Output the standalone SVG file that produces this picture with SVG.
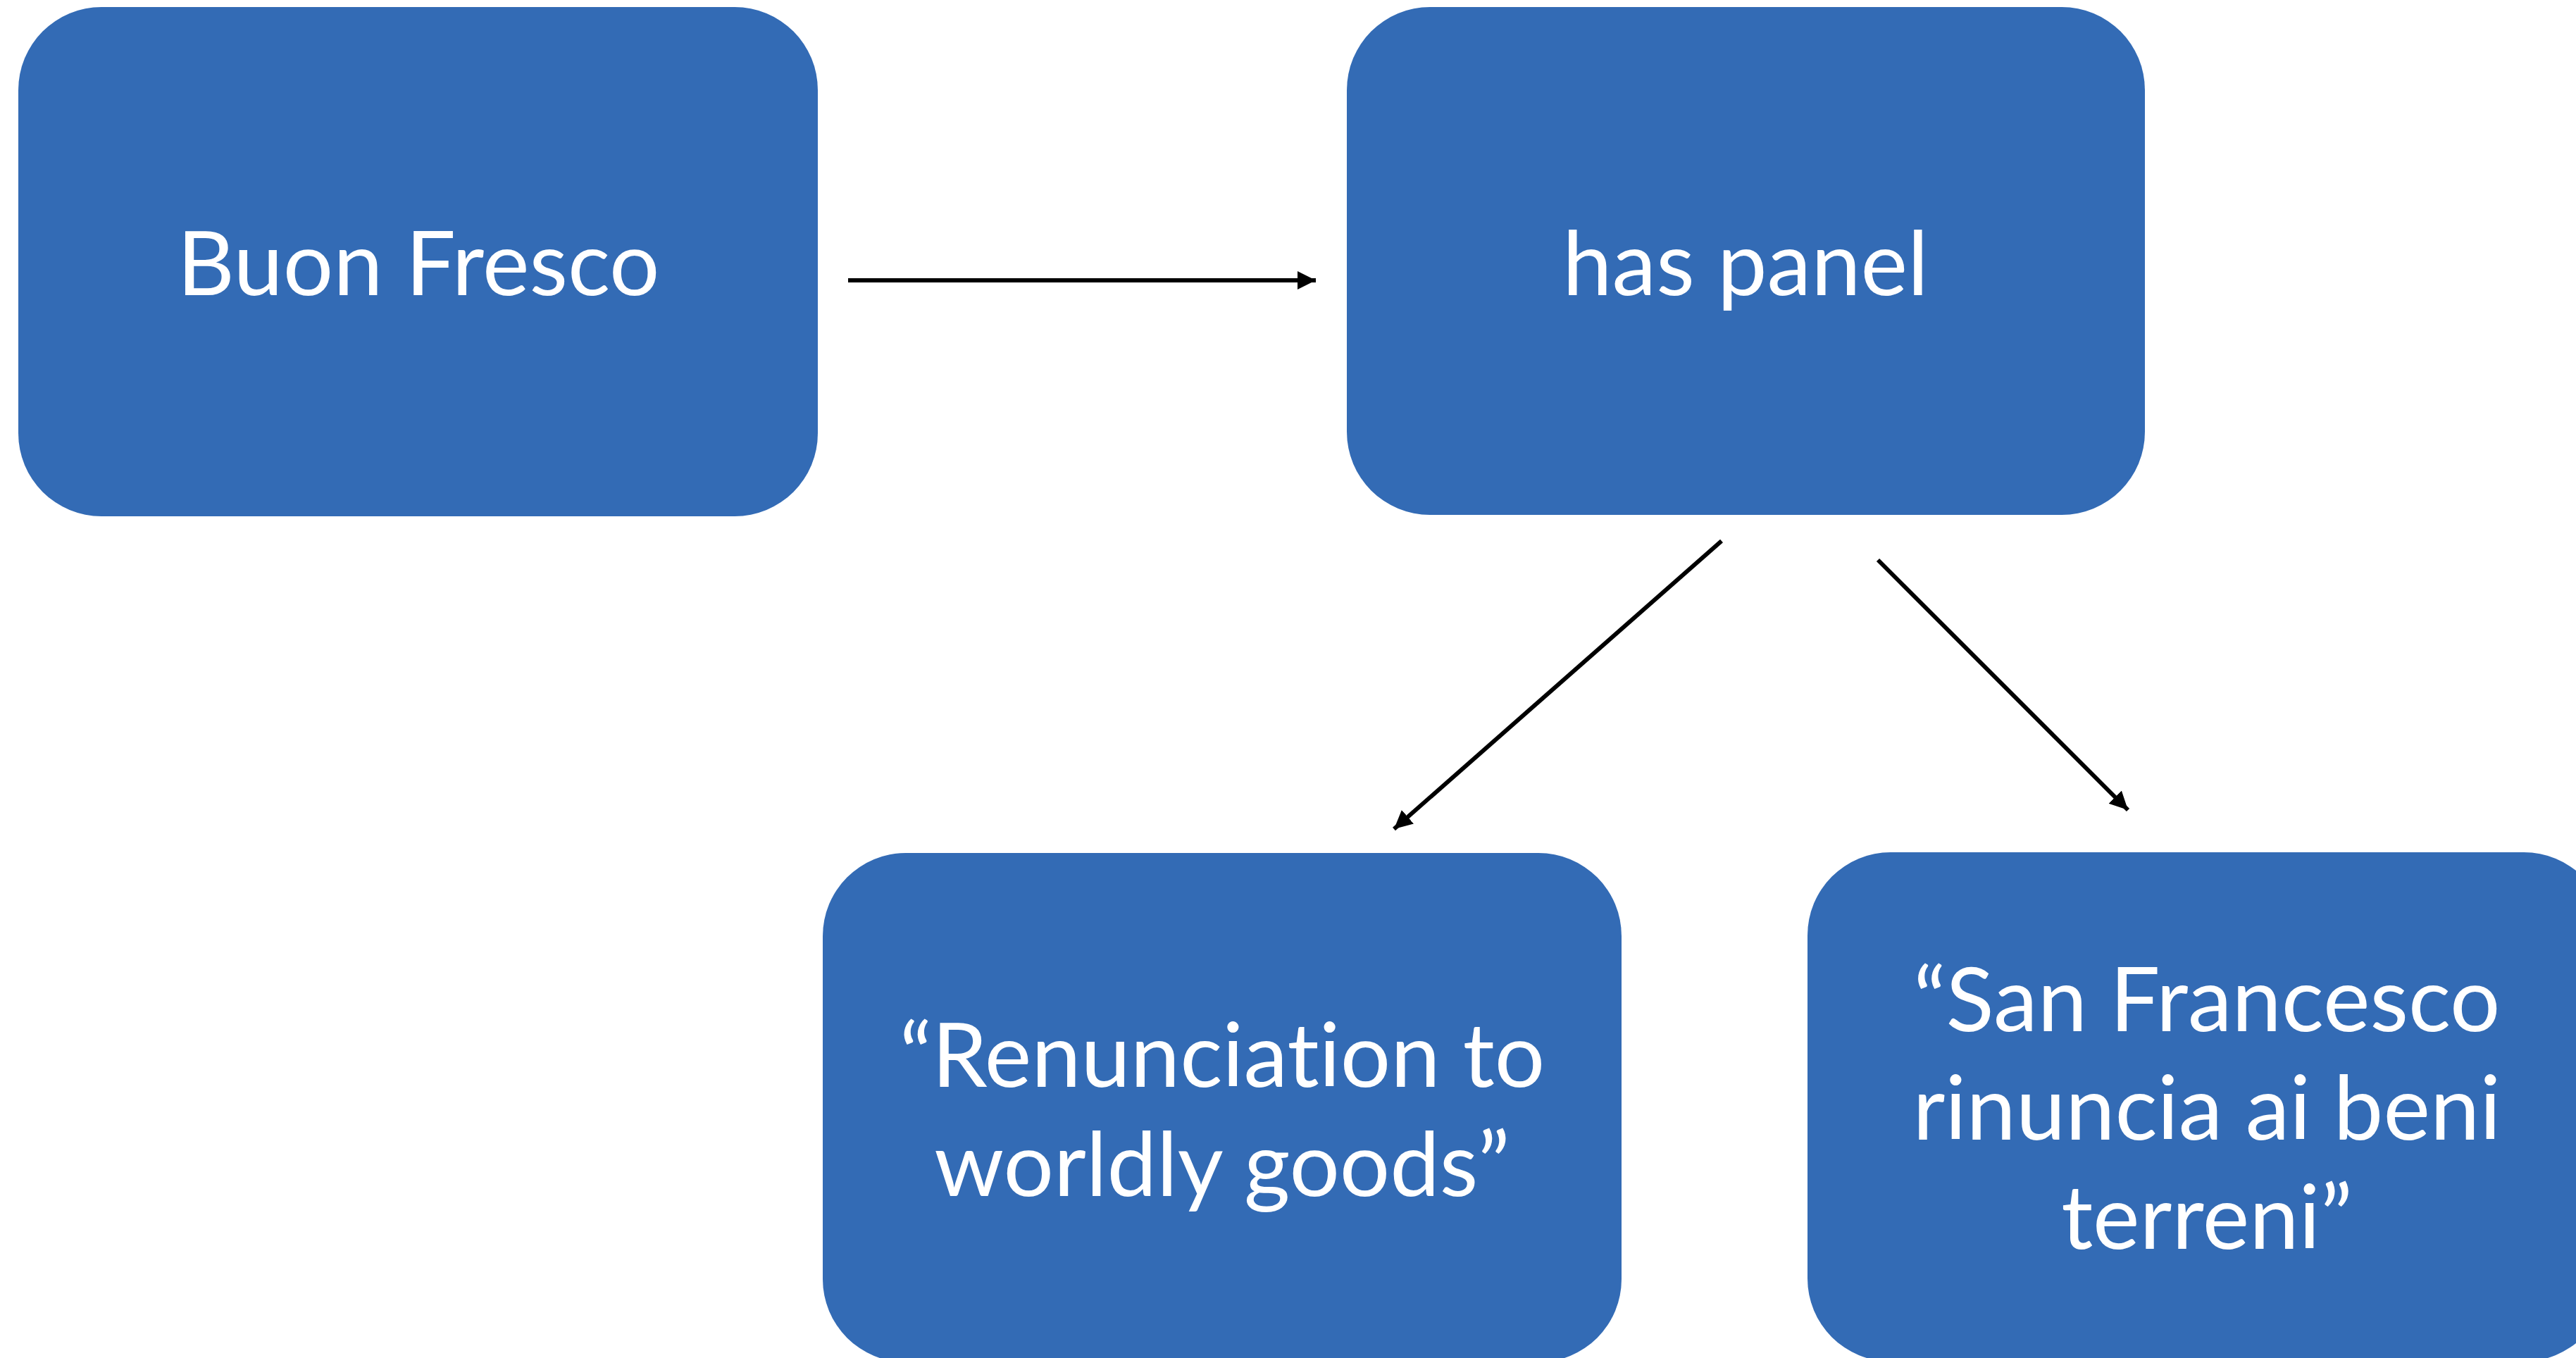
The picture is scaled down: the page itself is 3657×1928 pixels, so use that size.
<svg xmlns="http://www.w3.org/2000/svg" width="3657" height="1928" viewBox="0 0 3657 1928">
  <style>
    .node { fill: #336BB5; }
    .label { fill: #FFFFFF; font-family: Lato, "Liberation Sans", sans-serif; font-size: 126px; text-anchor: middle; font-variant-ligatures: none; font-feature-settings: "liga" 0, "dlig" 0; }
    .edge { stroke: #000000; stroke-width: 6; fill: none; marker-end: url(#arrow); }
  </style>
  <defs>
    <marker id="arrow" markerUnits="userSpaceOnUse" markerWidth="30" markerHeight="30" refX="26" refY="13" orient="auto">
      <path d="M0,0 L26,13 L0,26 Z" fill="#000000"/>
    </marker>
  </defs>
  <rect width="3657" height="1928" fill="#FFFFFF"/>
  <g id="node-buon-fresco">
    <rect class="node" x="26" y="10" width="1135" height="723" rx="118" ry="118"/>
    <text class="label" x="594" y="419">Buon Fresco</text>
  </g>
  <g id="node-has-panel">
    <rect class="node" x="1912" y="10" width="1133" height="721" rx="118" ry="118"/>
    <text class="label" x="2478" y="419">has panel</text>
  </g>
  <g id="node-renunciation">
    <rect class="node" x="1168" y="1211" width="1134" height="723" rx="118" ry="118"/>
    <text class="label" x="1735" y="1543">“Renunciation to</text>
    <text class="label" x="1735" y="1698">worldly goods”</text>
  </g>
  <g id="node-san-francesco">
    <rect class="node" x="2566" y="1210" width="1135" height="723" rx="118" ry="118"/>
    <text class="label" x="3133" y="1464">“San Francesco</text>
    <text class="label" x="3133" y="1618">rinuncia ai beni</text>
    <text class="label" x="3133" y="1773">terreni”</text>
  </g>
  <g id="connectors">
    <line class="edge" x1="1204" y1="398" x2="1868" y2="398"/>
    <line class="edge" x1="2444" y1="768" x2="1979" y2="1177"/>
    <line class="edge" x1="2666" y1="795" x2="3021" y2="1150"/>
  </g>
</svg>
